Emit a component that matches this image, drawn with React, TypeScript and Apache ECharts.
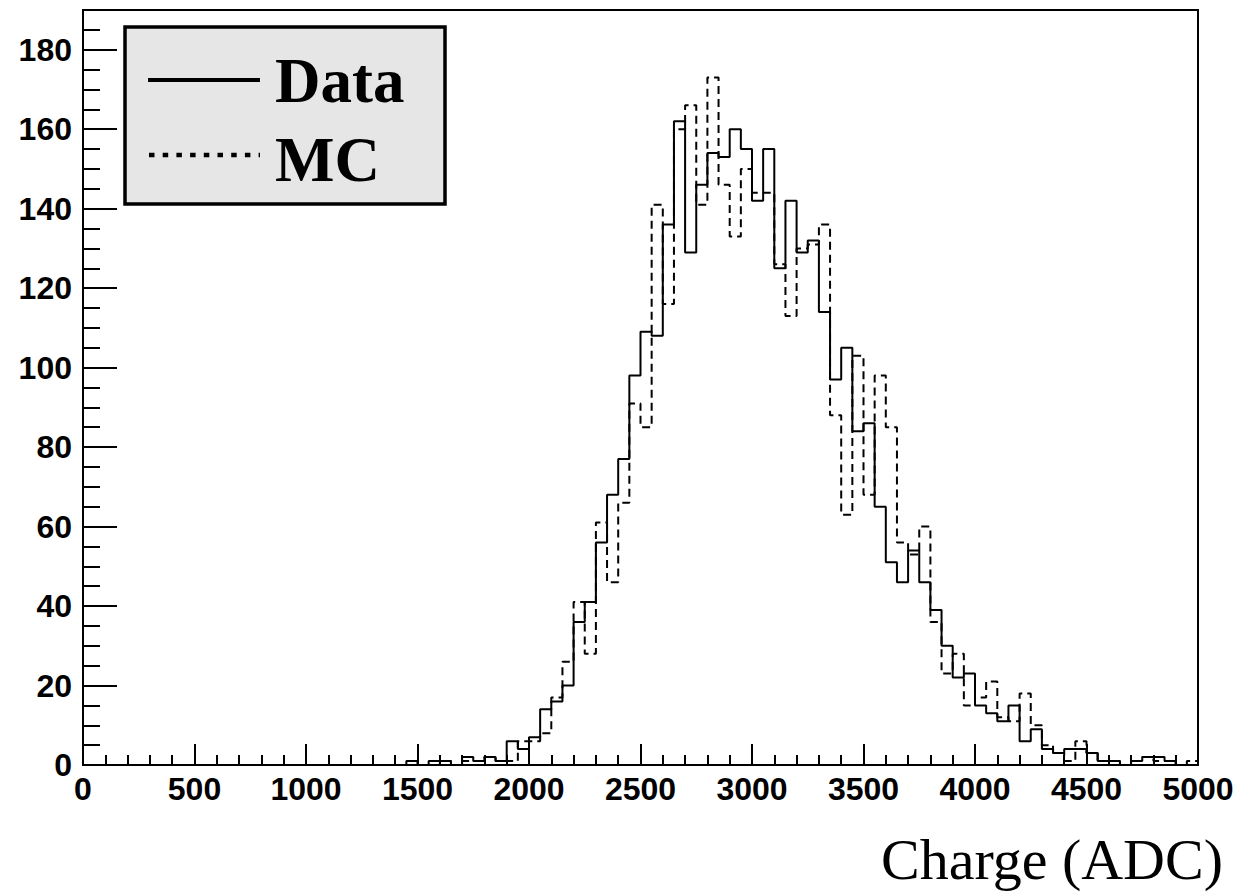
import React, { useEffect, useRef } from "react";
import * as echarts from "echarts";

// Histogram binning: 100 bins of 50 ADC from 0 to 5000
const BIN_WIDTH = 50;
const X_MIN = 0;
const X_MAX = 5000;

// Data counts per bin (bin i covers [50*i, 50*(i+1)) )
const dataCounts = [
  0, 0, 0, 0, 0, 0, 0, 0, 0, 0,
  0, 0, 0, 0, 0, 0, 0, 0, 0, 0,
  0, 0, 0, 0, 0, 0, 0, 0, 0, 1,
  0, 1, 1, 0, 2, 1, 2, 1, 6, 4,
  7, 14, 16, 20, 36, 41, 56, 68, 77, 98,
  109, 108, 136, 162, 129, 146, 154, 153, 160, 155,
  142, 155, 125, 142, 129, 132, 114, 97, 105, 84,
  86, 65, 51, 46, 54, 46, 39, 30, 22, 23,
  15, 13, 11, 15, 6, 9, 4, 3, 4, 4,
  3, 1, 1, 0, 1, 2, 2, 1, 0, 0,
];

// MC counts per bin
const mcCounts = [
  0, 0, 0, 0, 0, 0, 0, 0, 0, 0,
  0, 0, 0, 0, 0, 0, 0, 0, 0, 0,
  0, 0, 0, 0, 0, 0, 0, 0, 0, 0,
  0, 0, 1, 0, 1, 1, 2, 1, 1, 6,
  6, 8, 17, 26, 41, 28, 61, 46, 66, 91,
  85, 141, 116, 160, 166, 141, 173, 146, 133, 150,
  144, 144, 126, 113, 130, 131, 136, 88, 63, 103,
  68, 98, 85, 56, 53, 60, 36, 23, 28, 15,
  17, 21, 12, 11, 18, 10, 5, 3, 1, 6,
  3, 1, 1, 0, 1, 2, 1, 1, 0, 1,
];

const yTickValues = [0, 20, 40, 60, 80, 100, 120, 140, 160, 180];
const xTickValues = [0, 500, 1000, 1500, 2000, 2500, 3000, 3500, 4000, 4500, 5000];

const legendLabels = ["Data", "MC"];
const xTitle = "Charge (ADC)";

function toSteps(counts: number[]): number[][] {
  const pts = counts.map((v, i) => [X_MIN + i * BIN_WIDTH, v]);
  pts.push([X_MIN + counts.length * BIN_WIDTH, counts[counts.length - 1]]);
  return pts;
}

export default function App() {
  const ref = useRef<HTMLDivElement>(null);

  useEffect(() => {
    if (!ref.current) return;
    const chart = echarts.init(ref.current, undefined, { renderer: "svg" });

    const labelFont = {
      fontFamily: "'Liberation Sans', Arial, sans-serif",
      fontWeight: "bold" as const,
      fontSize: 32,
      color: "#000",
    };

    const option: any = {
      animation: false,
      backgroundColor: "#fff",
      grid: {
        left: 83,
        top: 10,
        width: 1115,
        height: 755,
        show: true,
        borderColor: "#000",
        borderWidth: 2,
        backgroundColor: "transparent",
        containLabel: false,
      },
      xAxis: [
        {
          type: "value",
          min: X_MIN,
          max: X_MAX,
          interval: 500,
          position: "bottom",
          axisLine: { show: true, onZero: false, lineStyle: { color: "#000", width: 2 } },
          axisTick: { show: true, inside: true, length: 21, lineStyle: { color: "#000", width: 2 } },
          axisLabel: {
            ...labelFont,
            margin: 8,
            formatter: (v: number) => (xTickValues.includes(v) ? String(v) : ""),
          },
          splitLine: { show: false },
        },
        {
          type: "value",
          min: X_MIN,
          max: X_MAX,
          interval: 100,
          position: "bottom",
          axisLine: { show: false, onZero: false },
          axisTick: { show: true, inside: true, length: 10, lineStyle: { color: "#000", width: 2 } },
          axisLabel: { show: false },
          splitLine: { show: false },
        },
      ],
      yAxis: [
        {
          type: "value",
          min: 0,
          max: 190,
          interval: 20,
          position: "left",
          axisLine: { show: true, onZero: false, lineStyle: { color: "#000", width: 2 } },
          axisTick: { show: true, inside: true, length: 34, lineStyle: { color: "#000", width: 2 } },
          axisLabel: {
            ...labelFont,
            margin: 11,
            showMaxLabel: false,
            formatter: (v: number) => (yTickValues.includes(v) ? String(v) : ""),
          },
          splitLine: { show: false },
        },
        {
          type: "value",
          min: 0,
          max: 190,
          interval: 5,
          position: "left",
          axisLine: { show: false, onZero: false },
          axisTick: { show: true, inside: true, length: 17, lineStyle: { color: "#000", width: 2 } },
          axisLabel: { show: false },
          splitLine: { show: false },
        },
      ],
      series: [
        {
          name: "MC",
          type: "line",
          step: "end",
          xAxisIndex: 0,
          yAxisIndex: 0,
          data: toSteps(mcCounts),
          showSymbol: false,
          symbol: "none",
          silent: true,
          lineStyle: { color: "#000", width: 2, type: [8, 5] },
          z: 2,
        },
        {
          name: "Data",
          type: "line",
          step: "end",
          xAxisIndex: 0,
          yAxisIndex: 0,
          data: toSteps(dataCounts),
          showSymbol: false,
          symbol: "none",
          silent: true,
          lineStyle: { color: "#000", width: 2, type: "solid" },
          z: 3,
        },
      ],
      graphic: [
        {
          type: "rect",
          shape: { x: 125, y: 27, width: 320, height: 177 },
          style: { fill: "#e6e6e6", stroke: "#000", lineWidth: 3.5 },
          z: 10,
        },
        {
          type: "line",
          shape: { x1: 148, y1: 80, x2: 260, y2: 80 },
          style: { stroke: "#000", lineWidth: 4 },
          z: 11,
        },
        {
          type: "line",
          shape: { x1: 149, y1: 155, x2: 260, y2: 155 },
          style: { stroke: "#000", lineWidth: 4.5, lineDash: [5.5, 8.2] },
          z: 11,
        },
        {
          type: "text",
          x: 275,
          y: 81,
          style: {
            text: legendLabels[0],
            font: "bold 63px 'Liberation Serif', 'Times New Roman', serif",
            fill: "#000",
            textAlign: "left",
            textVerticalAlign: "middle",
          },
          z: 11,
        },
        {
          type: "text",
          x: 275,
          y: 160,
          style: {
            text: legendLabels[1],
            font: "bold 63px 'Liberation Serif', 'Times New Roman', serif",
            fill: "#000",
            textAlign: "left",
            textVerticalAlign: "middle",
          },
          z: 11,
        },
        {
          type: "text",
          x: 1223,
          y: 859,
          style: {
            text: xTitle,
            font: "58px 'Liberation Serif', 'Times New Roman', serif",
            fill: "#000",
            textAlign: "right",
            textVerticalAlign: "middle",
          },
          z: 11,
        },
      ],
    };

    chart.setOption(option);
    return () => chart.dispose();
  }, []);

  return (
    <div
      ref={ref}
      style={{ position: "fixed", left: 0, top: 0, width: 1258, height: 892, background: "#fff" }}
    />
  );
}
